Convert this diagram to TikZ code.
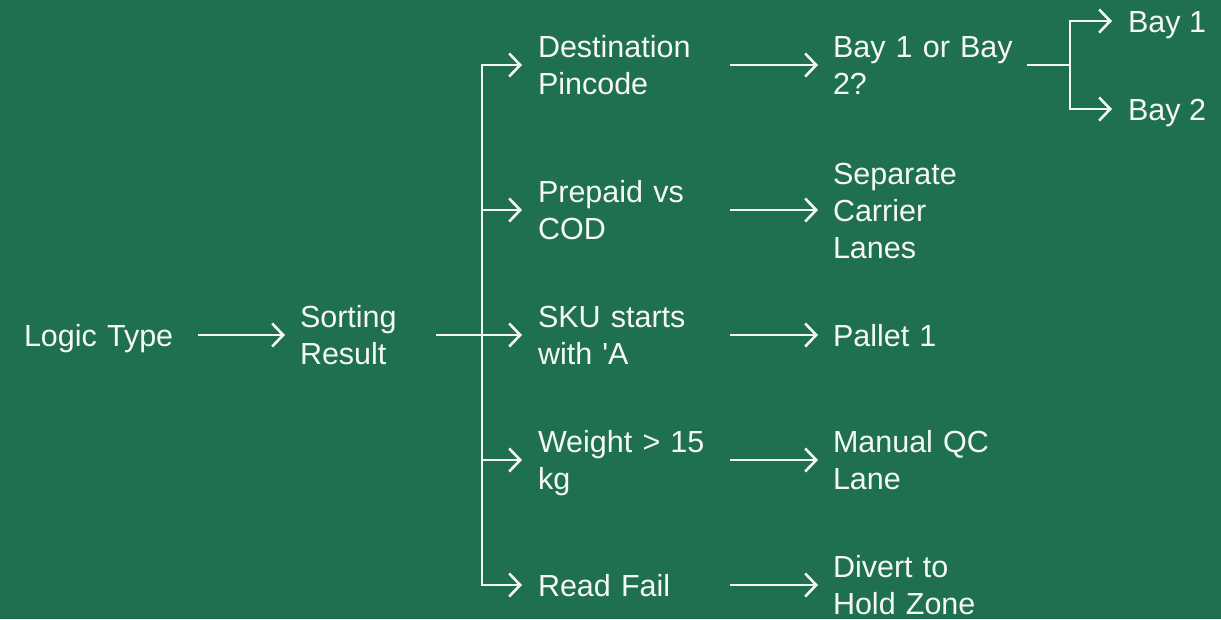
\documentclass[tikz,border=0pt]{standalone}
\usepackage{fontspec}
\usetikzlibrary{arrows.meta}
\newfontfamily\lblfont{Liberation Sans}
\definecolor{bggreen}{RGB}{31,112,80}
\definecolor{fg}{RGB}{245,248,245}
\newcommand\mystrut{\rule[-7.4pt]{0pt}{37pt}}
\tikzset{
  lbl/.style={anchor=west, inner sep=0pt, outer sep=0pt, align=left, text=fg,
    font=\lblfont\fontsize{30.5}{37}\selectfont},
  conn/.style={draw=fg, line width=2.6pt},
  arr/.style={conn, -{Straight Barb[length=11pt,width=23pt,line width=2.6pt]}}
}
\begin{document}
\begin{tikzpicture}[x=1pt,y=-1pt]
\fill[bggreen] (0,0) rectangle (1221,619);
\useasboundingbox (0,0) rectangle (1221,619);
% column 0 and 1
\node[lbl, text width=174pt] (logic) at (24,335) {\mystrut Logic Type};
\node[lbl, text width=136pt] (sorting) at (300,335) {\mystrut Sorting\\\mystrut Result};
% column 2
\node[lbl, text width=192pt] (dest) at (538,65) {\mystrut Destination\\\mystrut Pincode};
\node[lbl, text width=192pt] (prepaid) at (538,210) {\mystrut Prepaid vs\\\mystrut COD};
\node[lbl, text width=192pt] (sku) at (538,335) {\mystrut SKU starts\\\mystrut with 'A};
\node[lbl, text width=192pt] (weight) at (538,460) {\mystrut Weight > 15\\\mystrut kg};
\node[lbl, text width=192pt] (read) at (538,585) {\mystrut Read Fail};
% column 3
\node[lbl, text width=194pt] (bayq) at (833,65) {\mystrut Bay 1 or Bay\\\mystrut 2?};
\node[lbl, text width=194pt] (sep) at (833,210) {\mystrut Separate\\\mystrut Carrier\\\mystrut Lanes};
\node[lbl, text width=194pt] (pallet) at (833,335) {\mystrut Pallet 1};
\node[lbl, text width=194pt] (manual) at (833,460) {\mystrut Manual QC\\\mystrut Lane};
\node[lbl, text width=194pt] (divert) at (833,585) {\mystrut Divert to\\\mystrut Hold Zone};
% column 4
\node[lbl] (bay1) at (1128,21) {\mystrut Bay 1};
\node[lbl] (bay2) at (1128,109) {\mystrut Bay 2};
% junction points
\coordinate (bus) at (482,335);
\coordinate (fork) at (1070,65);
% connectors
\draw[arr, shorten >=15pt] (logic.east) -- (sorting.west);
\draw[conn] (sorting.east) -- (bus);
\foreach \t in {dest,prepaid,sku,weight,read}
  \draw[arr, shorten >=16pt] (bus) |- (\t.west);
\draw[arr, shorten >=15pt] (dest.east) -- (bayq.west);
\draw[arr, shorten >=15pt] (prepaid.east) -- (sep.west);
\draw[arr, shorten >=15pt] (sku.east) -- (pallet.west);
\draw[arr, shorten >=15pt] (weight.east) -- (manual.west);
\draw[arr, shorten >=15pt] (read.east) -- (divert.west);
\draw[conn] (bayq.east) -- (fork);
\draw[arr, shorten >=16pt] (fork) |- (bay1.west);
\draw[arr, shorten >=16pt] (fork) |- (bay2.west);
\end{tikzpicture}
\end{document}
